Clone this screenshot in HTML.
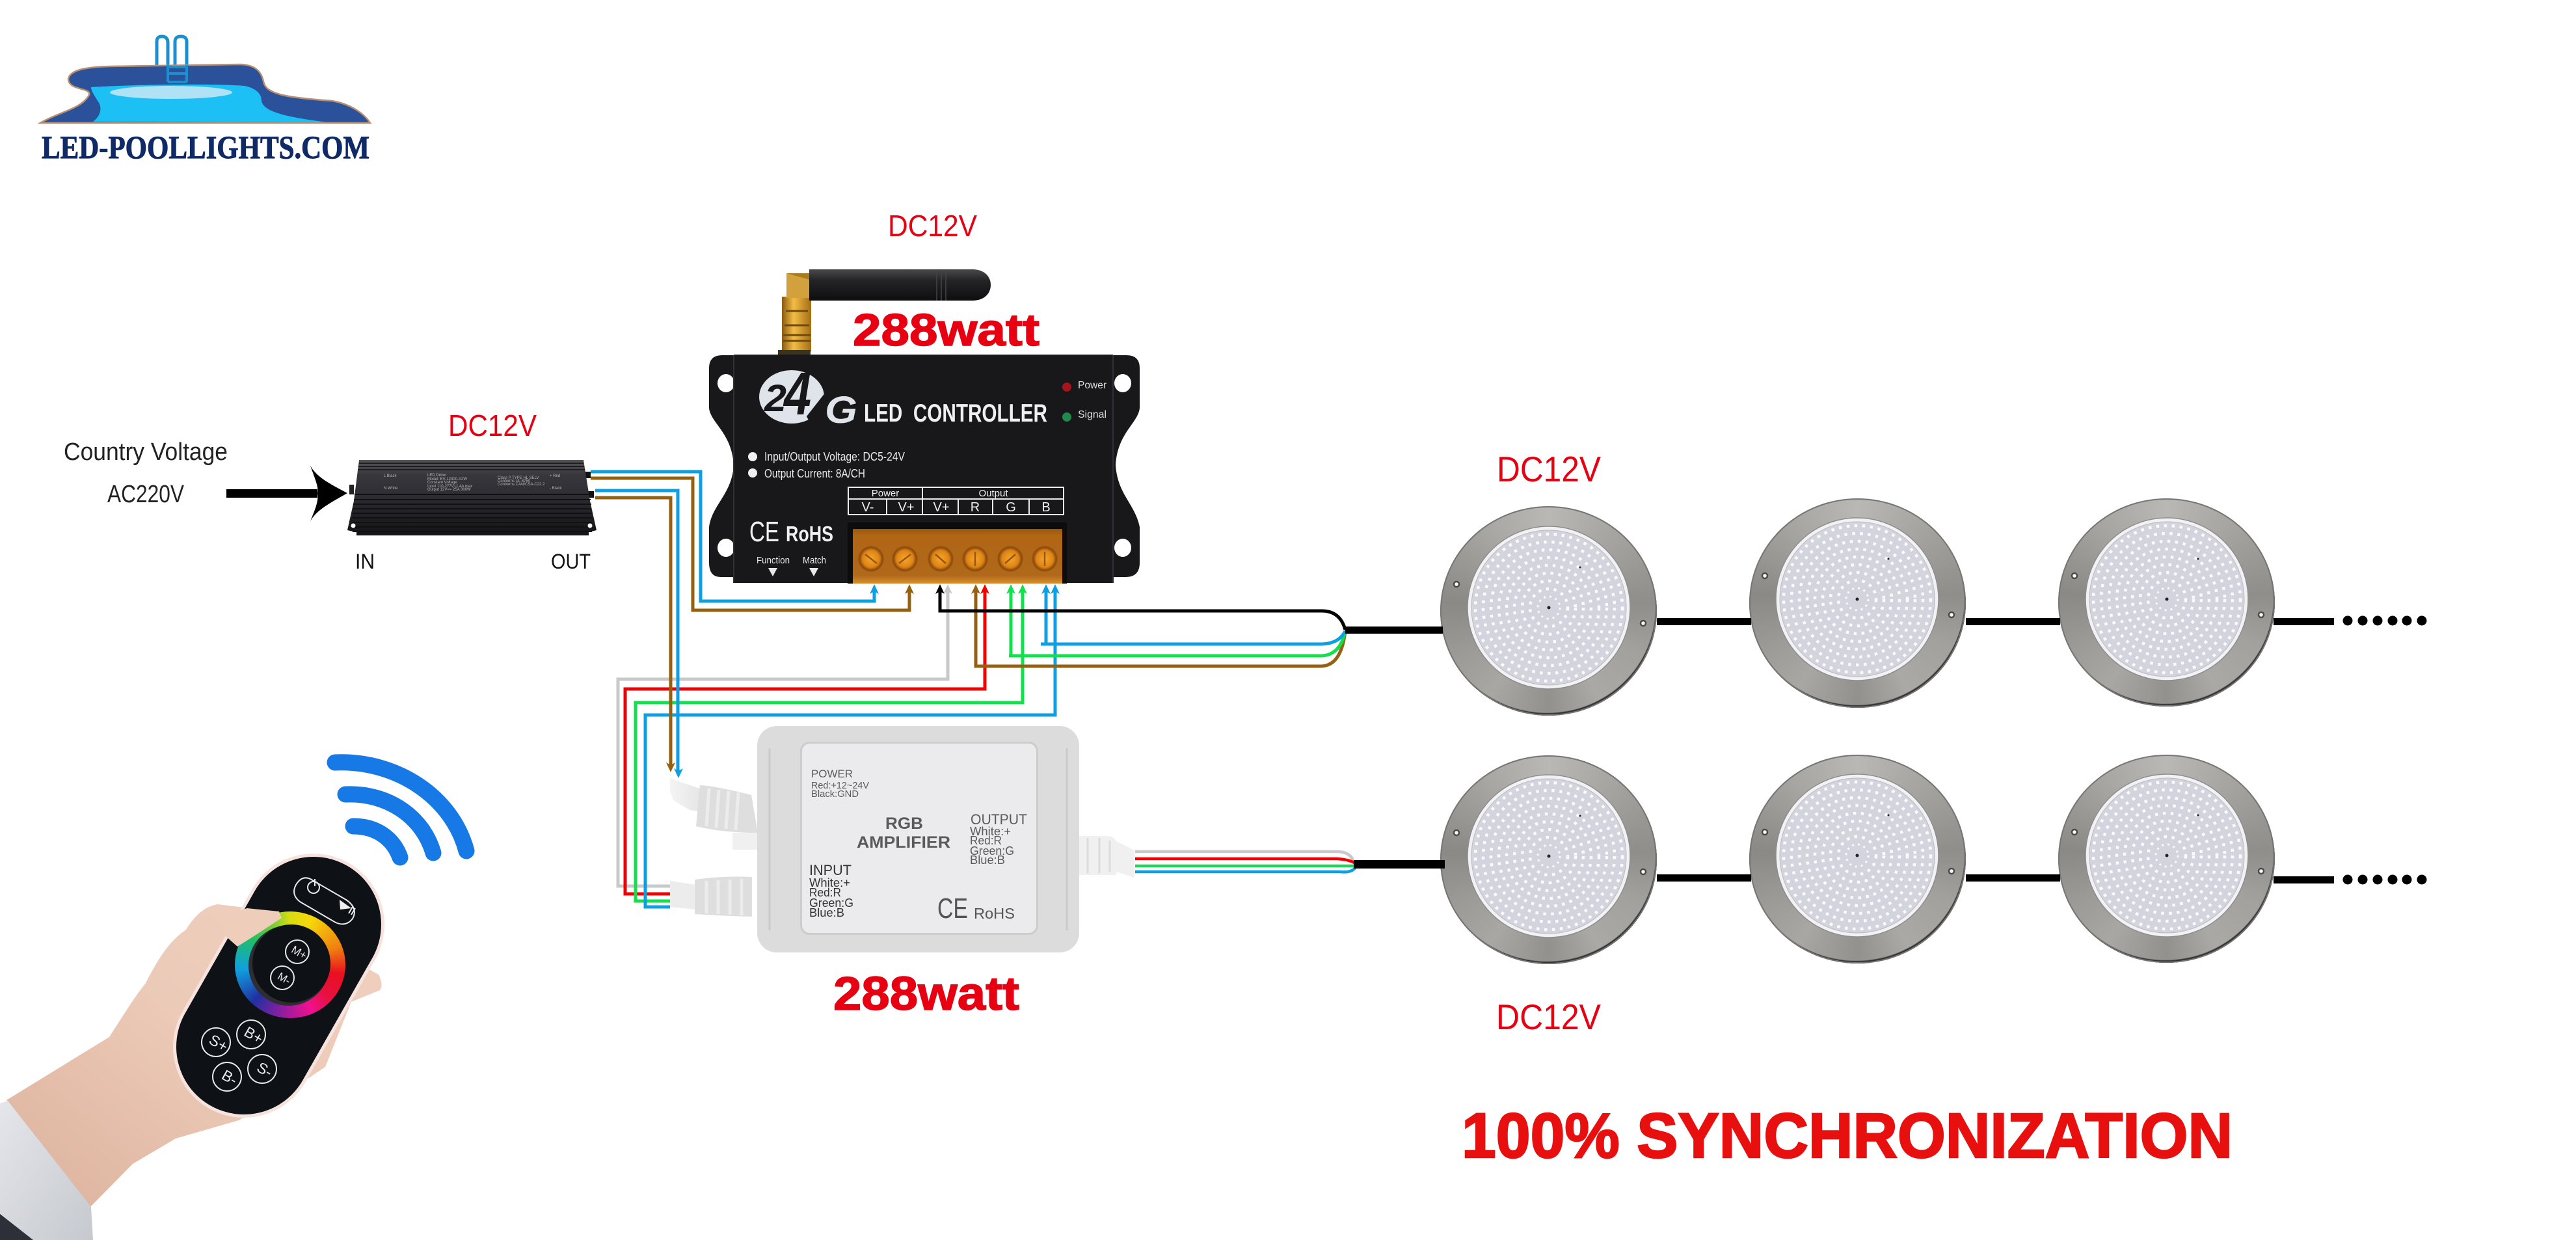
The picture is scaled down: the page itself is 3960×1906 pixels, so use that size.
<!DOCTYPE html>
<html><head><meta charset="utf-8"><style>
html,body{margin:0;padding:0;background:#fff;width:3960px;height:1906px;overflow:hidden}
.m{position:absolute;border-radius:50%;background:conic-gradient(#b9b8b4 0deg,#a3a29e 45deg,#8f8e8a 85deg,#a2a19d 115deg,#aaa9a5 150deg,#92918d 180deg,#a8a7a3 215deg,#9b9a96 245deg,#8a8985 275deg,#a6a5a1 320deg,#b9b8b4 360deg);box-shadow:inset 0 0 0 2px #777674,inset -2px -4px 1px #333}
svg{position:absolute;left:0;top:0}
text{font-family:"Liberation Sans",sans-serif}
</style></head><body>
<div class="m" style="left:2214px;top:778px;width:333px;height:322px"></div>
<div class="m" style="left:2689px;top:766px;width:333px;height:322px"></div>
<div class="m" style="left:3164px;top:766px;width:333px;height:320px"></div>
<div class="m" style="left:2214px;top:1161px;width:333px;height:321px"></div>
<div class="m" style="left:2689px;top:1160px;width:333px;height:321px"></div>
<div class="m" style="left:3164px;top:1160px;width:333px;height:320px"></div>
<svg width="3960" height="1906" viewBox="0 0 3960 1906" xmlns="http://www.w3.org/2000/svg">
<defs>
<linearGradient id="hand" x1="0" y1="1" x2="1" y2="0"><stop offset="0" stop-color="#dcb29c"/><stop offset=".55" stop-color="#eccab8"/><stop offset="1" stop-color="#f0d0bf"/></linearGradient>
<linearGradient id="sleeve" x1="0" y1="0" x2="1" y2="1"><stop offset="0" stop-color="#e4e6ea"/><stop offset="1" stop-color="#c6c9cf"/></linearGradient>
<linearGradient id="ob" x1="0" y1="0" x2="0" y2="1"><stop offset="0" stop-color="#9a560e"/><stop offset=".12" stop-color="#b06614"/><stop offset=".85" stop-color="#b0681a"/><stop offset="1" stop-color="#d9902c"/></linearGradient>
<radialGradient id="sc"><stop offset="0" stop-color="#f6a62a"/><stop offset=".65" stop-color="#dc8416"/><stop offset=".88" stop-color="#8a4a0c"/><stop offset="1" stop-color="#a85e12"/></radialGradient>
<linearGradient id="gold" x1="0" y1="0" x2="1" y2="0"><stop offset="0" stop-color="#8a5a10"/><stop offset=".4" stop-color="#f2bd45"/><stop offset="1" stop-color="#a56d14"/></linearGradient>
<linearGradient id="ant" x1="0" y1="0" x2="0" y2="1"><stop offset="0" stop-color="#4a4a4c"/><stop offset=".35" stop-color="#242426"/><stop offset="1" stop-color="#0e0e10"/></linearGradient>
<linearGradient id="drv" x1="0" y1="0" x2="0" y2="1"><stop offset="0" stop-color="#55555a"/><stop offset=".2" stop-color="#37373c"/><stop offset=".45" stop-color="#2e2e33"/><stop offset="1" stop-color="#141417"/></linearGradient>
<linearGradient id="wc" x1="0" y1="0" x2="1" y2="0"><stop offset="0" stop-color="#f4f4f4"/><stop offset="1" stop-color="#e2e2e2"/></linearGradient>
<g id="plate">
<circle r="125" fill="#f2f2f6" stroke="#8d8d8d" stroke-width="1.5"/>
<circle r="119" fill="#d4d4de" stroke="#bbb" stroke-width="1"/>
<g fill="none" stroke="#fafaff" stroke-width="4.5">
<circle r="113" stroke-dasharray="4.5 7.5"/><circle r="101" stroke-dasharray="4.5 7.5"/><circle r="89" stroke-dasharray="4.5 7.5"/><circle r="77" stroke-dasharray="4.5 7.5"/><circle r="65" stroke-dasharray="4.5 7.5"/><circle r="53" stroke-dasharray="4.5 7.5"/><circle r="41" stroke-dasharray="4.5 7.5"/><circle r="29" stroke-dasharray="4.5 7.5"/><circle r="17" stroke-dasharray="3 6" stroke-width="3"/>
</g>
<circle r="2.5" fill="#222"/><circle cx="48" cy="-62" r="1.5" fill="#222"/>
<circle cx="-142" cy="-36" r="4" fill="#fff" stroke="#4a4a4a" stroke-width="2.5"/>
<circle cx="145" cy="24" r="4" fill="#fff" stroke="#4a4a4a" stroke-width="2.5"/>
</g>
</defs>

<!-- logo -->
<path d="M241,103V64q0,-8 8,-8t9,8V103M269,103V64q0,-8 9,-8t9,8V103" fill="none" stroke="#1b8fd0" stroke-width="5"/>
<path d="M62,189C90,172 125,168 137,146C141,134 105,140 105,121C108,108 130,103 170,102L370,99C395,100 402,112 405,125C408,145 440,150 510,155C540,160 560,175 569,189Z" fill="#2a5199" stroke="#b89070" stroke-width="2.5"/>
<path d="M140,134C200,130 330,128 376,132C395,136 402,145 402,155C405,172 440,180 504,188L143,187C155,178 158,165 150,155C145,146 140,140 140,134Z" fill="#1cc0f5"/>
<ellipse cx="263" cy="142" rx="94" ry="10" fill="#aee2f4"/>
<path d="M258,100V126M287,100V126M258,103H287M258,113H287M258,126H287" fill="none" stroke="#1b8fd0" stroke-width="4"/>
<text x="64" y="243" font-size="50" font-weight="700" style="font-family:'Liberation Serif',serif" fill="#0f2a66" stroke="#0f2a66" stroke-width="1" textLength="504" lengthAdjust="spacingAndGlyphs">LED-POOLLIGHTS.COM</text>

<!-- left labels -->
<text x="98" y="707" font-size="38" fill="#222" textLength="252" lengthAdjust="spacingAndGlyphs">Country Voltage</text>
<text x="165" y="772" font-size="38" fill="#222" textLength="118" lengthAdjust="spacingAndGlyphs">AC220V</text>
<rect x="348" y="752" width="140" height="13" fill="#000"/>
<path d="M534,758C510,745 488,735 477,716C486,740 490,750 488,758C490,768 486,780 477,801C488,782 510,772 534,758Z" fill="#000"/>

<!-- driver -->
<text x="689" y="670" font-size="46" fill="#e60012" textLength="136" lengthAdjust="spacingAndGlyphs">DC12V</text>
<rect x="898" y="725" width="10" height="10" fill="#111"/><rect x="903" y="755" width="10" height="10" fill="#111"/>
<rect x="537" y="745" width="7" height="15" fill="#222"/>
<path d="M552,707H897L907,770L917,815L905,818V823H548V818L534,815L544,770Z" fill="url(#drv)"/>
<g stroke="#101013" stroke-width="1.5">
<path d="M552,712H897M551,717H898M550,722H899"/>
<path d="M545,760H907M544,768H908M543,775H909M543,782H909M542,789H910M542,796H910M542,803H910M542,810H910M542,817H910" stroke-width="2"/>
</g>
<circle cx="543" cy="808" r="3.5" fill="#fff"/><circle cx="907" cy="808" r="3.5" fill="#fff"/>
<g font-size="6" fill="#b6b6b6">
<text x="657" y="732">LED Driver</text><text x="657" y="738">Model: EV-12300-A2W</text><text x="657" y="743">Constant Voltage</text><text x="657" y="749">Input 110-277V~1.4A max</text><text x="657" y="754">Output 12V== 25A 300W</text>
<text x="765" y="736">Class P  TYPE HL  SELV</text><text x="765" y="741">Conforms UL 8750</text><text x="765" y="746">Conforms CAN/CSA-C22.2</text>
<text x="590" y="733">L Black</text><text x="590" y="752">N White</text><text x="845" y="733">+ Red</text><text x="845" y="752">- Black</text>
</g>
<text x="546" y="874" font-size="32" fill="#111" textLength="30" lengthAdjust="spacingAndGlyphs">IN</text>
<text x="847" y="874" font-size="32" fill="#111" textLength="61" lengthAdjust="spacingAndGlyphs">OUT</text>

<!-- antenna -->
<text x="1365" y="363" font-size="46" fill="#e60012" textLength="137" lengthAdjust="spacingAndGlyphs">DC12V</text>
<rect x="1202" y="456" width="45" height="84" fill="url(#gold)"/>
<rect x="1209" y="420" width="36" height="38" fill="#a97a20"/>
<path d="M1209,420L1245,430V458H1209Z" fill="#d2a03c"/>
<rect x="1196" y="538" width="50" height="8" fill="#3a3320"/>
<path d="M1208,478H1242M1206,500H1244M1204,515H1246M1204,524H1246" stroke="#6e4a10" stroke-width="3"/>
<path d="M1244,414H1495C1512,414 1523,424 1523,438C1523,452 1512,462 1495,462H1244Z" fill="url(#ant)"/>
<path d="M1440,414V462M1447,414V462M1454,414V462" stroke="#444" stroke-width="1.5"/>

<text x="1311" y="531" font-size="70" font-weight="700" fill="#e60012" stroke="#e60012" stroke-width="1.5" textLength="287" lengthAdjust="spacingAndGlyphs">288watt</text>

<!-- controller -->
<path fill-rule="evenodd" d="M1128,546H1110Q1090,546 1090,566V627C1092,650 1125,665 1128,715C1125,760 1095,775 1090,810V865Q1090,887 1108,887H1128V896H1711V887H1730Q1752,887 1752,865V810C1745,775 1718,760 1715,715C1718,665 1750,650 1752,627V566Q1752,546 1732,546H1711V545H1128Z M1116,575a13,14 0 1,0 .01,0Z M1116,828a13,14 0 1,0 .01,0Z M1726,575a13,14 0 1,0 .01,0Z M1726,828a13,14 0 1,0 .01,0Z" fill="#18181b"/>
<path d="M1128,546V896M1711,546V896" stroke="#303036" stroke-width="2"/>
<ellipse cx="1217" cy="610" rx="50" ry="41" fill="#dfe3ea"/>
<text x="1175" y="632" font-size="58" font-weight="700" font-style="italic" fill="#18181b" textLength="34" lengthAdjust="spacingAndGlyphs">2</text>
<text x="1205" y="637" font-size="93" font-weight="700" font-style="italic" fill="#18181b" textLength="42" lengthAdjust="spacingAndGlyphs">4</text>
<path d="M1269,603L1240,640L1246,652L1274,612Z" fill="#18181b"/>
<text x="1268" y="650" font-size="58" font-weight="700" font-style="italic" fill="#dfe3ea" textLength="50" lengthAdjust="spacingAndGlyphs">G</text>
<text x="1328" y="648" font-size="39" font-weight="700" fill="#f0f0f0" textLength="282" lengthAdjust="spacingAndGlyphs" xml:space="preserve">LED  CONTROLLER</text>
<circle cx="1640" cy="595" r="7" fill="#a5141c"/><circle cx="1640" cy="641" r="7" fill="#1f8a4c"/>
<text x="1657" y="597" font-size="16" fill="#ddd" textLength="44" lengthAdjust="spacingAndGlyphs">Power</text>
<text x="1657" y="642" font-size="16" fill="#ddd" textLength="44" lengthAdjust="spacingAndGlyphs">Signal</text>
<circle cx="1157" cy="702" r="7" fill="#f0f0f0"/><circle cx="1157" cy="727" r="7" fill="#f0f0f0"/>
<text x="1175" y="708" font-size="18" fill="#e8e8e8" textLength="216" lengthAdjust="spacingAndGlyphs">Input/Output Voltage: DC5-24V</text>
<text x="1175" y="734" font-size="18" fill="#e8e8e8" textLength="155" lengthAdjust="spacingAndGlyphs">Output Current: 8A/CH</text>
<path d="M1304,749H1635V791H1304ZM1304,767H1635M1418,749V791M1363,767V791M1473,767V791M1526,767V791M1582,767V791" fill="none" stroke="#ececec" stroke-width="2"/>
<g fill="#eee" text-anchor="middle">
<text x="1361" y="763" font-size="15">Power</text><text x="1527" y="763" font-size="15">Output</text>
<text x="1334" y="786" font-size="20">V-</text><text x="1393" y="786" font-size="20">V+</text><text x="1447" y="786" font-size="20">V+</text><text x="1499" y="786" font-size="20">R</text><text x="1554" y="786" font-size="20">G</text><text x="1608" y="786" font-size="20">B</text>
</g>
<text x="1152" y="832" font-size="44" fill="#f0f0f0" textLength="46" lengthAdjust="spacingAndGlyphs">CE</text>
<text x="1208" y="832" font-size="33" font-weight="700" fill="#f0f0f0" textLength="73" lengthAdjust="spacingAndGlyphs">RoHS</text>
<text x="1163" y="866" font-size="15" fill="#e8e8e8" textLength="51" lengthAdjust="spacingAndGlyphs">Function</text>
<text x="1234" y="866" font-size="15" fill="#e8e8e8" textLength="36" lengthAdjust="spacingAndGlyphs">Match</text>
<path d="M1181,873H1195L1188,886ZM1244,873H1258L1251,886Z" fill="#e8e8e8"/>
<rect x="1303" y="803" width="337" height="94" fill="#0c0c0d"/>
<rect x="1311" y="813" width="322" height="84" fill="url(#ob)"/>
<g fill="url(#sc)">
<circle cx="1339" cy="859" r="20"/><circle cx="1391" cy="859" r="20"/><circle cx="1446" cy="859" r="20"/><circle cx="1499" cy="859" r="20"/><circle cx="1553" cy="859" r="20"/><circle cx="1606" cy="859" r="20"/>
</g>
<g stroke="#9a560e" stroke-width="2.5"><path d="M1330,852L1348,866M1382,866L1400,852M1438,852L1454,866M1499,848V870M1545,866L1561,852M1606,848V870"/></g>

<!-- wires -->
<g fill="none" stroke-width="5">
<path d="M1457,905V1044H950V1362H1030" stroke="#c9c9c9"/>
<path d="M1514,905V1059H961V1374H1030" stroke="#f00000"/>
<path d="M1572,905V1080H977V1385H1030" stroke="#12e04d"/>
<path d="M1622,905V1099H992V1394H1030" stroke="#0d9fe3"/>
<path d="M915,765H1031V1180" stroke="#95600f"/>
<path d="M915,754H1042V1190" stroke="#0d9fe3"/>
<path d="M908,735H1065V938H1398V905" stroke="#95600f"/>
<path d="M908,725H1077V924H1344V905" stroke="#0d9fe3"/>
<path d="M1500,905V1024H2030Q2062,1024 2068,970" stroke="#95600f"/>
<path d="M1554,905V1008M1551,1008H2030Q2060,1008 2068,970" stroke="#12e04d"/>
<path d="M1608,905V990M1600,990H2030Q2058,990 2068,970" stroke="#0d9fe3"/>
<path d="M1445,905V939H2032Q2060,939 2068,968" stroke="#000"/>
</g>
<path d="M1344,898l-7,15l7,-4l7,4zM1622,898l-7,15l7,-4l7,4zM1608,898l-7,15l7,-4l7,4zM1043,1196l-7,-15l7,4l7,-4z" fill="#0d9fe3"/>
<path d="M1398,898l-7,15l7,-4l7,4zM1500,898l-7,15l7,-4l7,4zM1031,1187l-7,-15l7,4l7,-4z" fill="#95600f"/>
<path d="M1445,898l-7,15l7,-4l7,4z" fill="#000"/>
<path d="M1457,898l-7,15l7,-4l7,4z" fill="#c9c9c9"/>
<path d="M1514,898l-7,15l7,-4l7,4z" fill="#f00000"/>
<path d="M1554,898l-7,15l7,-4l7,4zM1572,898l-7,15l7,-4l7,4z" fill="#12e04d"/>

<!-- amplifier connectors -->
<path d="M1030,1195L1040,1200L1076,1212L1090,1250L1060,1245L1035,1230L1030,1215Z" fill="url(#wc)"/>
<path d="M1076,1207Q1100,1208 1155,1222L1165,1280Q1110,1280 1070,1270Z" fill="#dedede"/>
<path d="M1090,1212L1086,1270M1105,1214L1101,1272M1120,1216L1116,1274M1135,1218L1131,1276" stroke="#ececec" stroke-width="5"/>
<rect x="1126" y="1280" width="38" height="26" fill="#f0f0f0"/>
<path d="M1030,1354L1070,1360V1398L1030,1394Z" fill="#ececec"/>
<path d="M1068,1352Q1110,1346 1156,1348V1409Q1110,1408 1068,1405Z" fill="#dedede"/>
<path d="M1086,1354V1404M1104,1353V1405M1122,1352V1406M1140,1351V1407" stroke="#ececec" stroke-width="5"/>
<rect x="1164" y="1116" width="495" height="348" rx="30" fill="#dcdcdc"/>
<rect x="1230" y="1140" width="366" height="297" rx="14" fill="#cdcdcd"/>
<rect x="1233" y="1143" width="360" height="291" rx="12" fill="#ebebed"/>
<path d="M1183,1150V1430M1640,1150V1430" stroke="#cacaca" stroke-width="3"/>
<g fill="#5a5a5a">
<text x="1247" y="1195" font-size="17" textLength="64" lengthAdjust="spacingAndGlyphs">POWER</text>
<text x="1247" y="1212" font-size="15" textLength="89" lengthAdjust="spacingAndGlyphs">Red:+12~24V</text>
<text x="1247" y="1225" font-size="15" textLength="73" lengthAdjust="spacingAndGlyphs">Black:GND</text>
<text x="1361" y="1274" font-size="25" font-weight="700" textLength="58" lengthAdjust="spacingAndGlyphs">RGB</text>
<text x="1317" y="1303" font-size="25" font-weight="700" textLength="144" lengthAdjust="spacingAndGlyphs">AMPLIFIER</text>
<text x="1492" y="1267" font-size="22" textLength="87" lengthAdjust="spacingAndGlyphs">OUTPUT</text>
<text x="1491" y="1284" font-size="18" textLength="63" lengthAdjust="spacingAndGlyphs">White:+</text>
<text x="1491" y="1298" font-size="18" textLength="49" lengthAdjust="spacingAndGlyphs">Red:R</text>
<text x="1491" y="1314" font-size="18" textLength="68" lengthAdjust="spacingAndGlyphs">Green:G</text>
<text x="1491" y="1328" font-size="18" textLength="54" lengthAdjust="spacingAndGlyphs">Blue:B</text>
</g>
<g fill="#333">
<text x="1244" y="1345" font-size="22" textLength="65" lengthAdjust="spacingAndGlyphs">INPUT</text>
<text x="1244" y="1363" font-size="18" textLength="63" lengthAdjust="spacingAndGlyphs">White:+</text>
<text x="1244" y="1378" font-size="18" textLength="49" lengthAdjust="spacingAndGlyphs">Red:R</text>
<text x="1244" y="1394" font-size="18" textLength="68" lengthAdjust="spacingAndGlyphs">Green:G</text>
<text x="1244" y="1409" font-size="18" textLength="54" lengthAdjust="spacingAndGlyphs">Blue:B</text>
</g>
<g fill="#555">
<text x="1441" y="1411" font-size="44" textLength="47" lengthAdjust="spacingAndGlyphs">CE</text>
<text x="1497" y="1412" font-size="23" textLength="63" lengthAdjust="spacingAndGlyphs">RoHS</text>
</g>
<path d="M1659,1285H1700Q1712,1285 1716,1293L1744,1307V1349L1716,1340V1345H1659Z" fill="#f0f0f0"/>
<path d="M1672,1288V1342M1690,1288V1342M1706,1292V1340" stroke="#dcdcdc" stroke-width="3"/>
<g fill="none" stroke-width="4.5">
<path d="M1745,1309H2055Q2078,1309 2082,1328" stroke="#c9c9c9"/>
<path d="M1745,1320H2055Q2072,1321 2082,1326" stroke="#f00000"/>
<path d="M1745,1331H2082" stroke="#22d35c"/>
<path d="M1745,1340H2060Q2078,1342 2084,1333" stroke="#0d9fe3"/>
</g>
<text x="1281" y="1552" font-size="72" font-weight="700" fill="#e60012" stroke="#e60012" stroke-width="1.5" textLength="286" lengthAdjust="spacingAndGlyphs">288watt</text>

<!-- lamp lines -->
<g fill="#000">
<rect x="2068" y="963" width="150" height="11"/><rect x="2547" y="950" width="145" height="11"/><rect x="3022" y="950" width="145" height="11"/><rect x="3495" y="950" width="93" height="11"/>
<rect x="2081" y="1322" width="140" height="13"/><rect x="2547" y="1344" width="145" height="11"/><rect x="3022" y="1344" width="145" height="11"/><rect x="3495" y="1347" width="93" height="11"/>
<circle cx="3609" cy="954" r="7.5"/><circle cx="3632" cy="954" r="7.5"/><circle cx="3655" cy="954" r="7.5"/><circle cx="3678" cy="954" r="7.5"/><circle cx="3700" cy="954" r="7.5"/><circle cx="3723" cy="954" r="7.5"/>
<circle cx="3609" cy="1352" r="7.5"/><circle cx="3632" cy="1352" r="7.5"/><circle cx="3655" cy="1352" r="7.5"/><circle cx="3678" cy="1352" r="7.5"/><circle cx="3700" cy="1352" r="7.5"/><circle cx="3723" cy="1352" r="7.5"/>
</g>
<use href="#plate" transform="translate(2381,934)"/><use href="#plate" transform="translate(2855,921)"/><use href="#plate" transform="translate(3331,921)"/>
<use href="#plate" transform="translate(2381,1316)"/><use href="#plate" transform="translate(2855,1315)"/><use href="#plate" transform="translate(3331,1315)"/>

<text x="2301" y="740" font-size="55" fill="#e60012" textLength="160" lengthAdjust="spacingAndGlyphs">DC12V</text>
<text x="2300" y="1582" font-size="55" fill="#e60012" textLength="161" lengthAdjust="spacingAndGlyphs">DC12V</text>
<text x="2247" y="1779" font-size="97" font-weight="700" fill="#e8100f" stroke="#e8100f" stroke-width="2.5" textLength="1185" lengthAdjust="spacingAndGlyphs">100% SYNCHRONIZATION</text>

<!-- wifi -->
<g fill="none" stroke="#1679e6" stroke-width="25" stroke-linecap="round">
<path d="M515,1172C610,1168 695,1225 717,1308"/>
<path d="M531,1221C595,1218 650,1255 666,1311"/>
<path d="M543,1270C580,1270 605,1290 615,1318"/>
</g>

<!-- hand + sleeve -->
<path d="M10,1691L168,1594C190,1560 205,1535 224,1511C245,1470 262,1445 286,1429C300,1405 318,1392 335,1390L400,1398L582,1498Q590,1515 584,1522L540,1540L500,1640L440,1680L367,1722L270,1750L204,1789L138,1856Z" fill="url(#hand)"/>
<path d="M0,1696L12,1692L140,1855L143,1906H0Z" fill="url(#sleeve)"/>
<path d="M0,1866L51,1906H0Z" fill="#2d3038"/>

<!-- remote -->
<path d="M482,1421L375,1609" stroke="#f6e3de" stroke-width="218" stroke-linecap="round" fill="none"/>
<path d="M482,1421L375,1609" stroke="#0e1116" stroke-width="208" stroke-linecap="round" fill="none"/>
<foreignObject x="361" y="1401" width="170" height="164"><div xmlns="http://www.w3.org/1999/xhtml" style="width:170px;height:164px;border-radius:50%;background:conic-gradient(#d9dd12 0deg,#f5d80a 25deg,#f08010 70deg,#e81020 100deg,#e81040 130deg,#f01090 155deg,#8020a0 195deg,#2030a0 225deg,#10a0e0 265deg,#20c060 305deg,#80d030 340deg,#d9dd12 360deg)"></div></foreignObject>
<ellipse cx="444" cy="1484" rx="62" ry="62" fill="#2e2e32"/>
<circle cx="448" cy="1481" r="60" fill="#0e1116"/>
<g fill="none" stroke="#e8e8e8" stroke-width="2">
<circle cx="457" cy="1463" r="18"/><circle cx="434" cy="1503" r="18"/>
<circle cx="386" cy="1590" r="22"/><circle cx="332" cy="1602" r="22"/><circle cx="403" cy="1643" r="22"/><circle cx="349" cy="1655" r="22"/>
<path d="M477,1351L532,1383Q551,1396 542,1412Q532,1425 516,1418L461,1386Q447,1375 455,1360Q464,1345 477,1351Z"/>
<circle cx="482" cy="1364" r="9"/><path d="M484,1351V1362"/>
</g>
<path d="M522,1383L540,1396L523,1398Z" fill="#eee"/>
<path d="M542,1394L536,1404M546,1396L540,1406" stroke="#eee" stroke-width="2"/>
<g fill="#e8e8e8" text-anchor="middle">
<text transform="translate(457,1469) rotate(30)" font-size="17">M+</text>
<text transform="translate(434,1509) rotate(30)" font-size="17">M-</text>
<text transform="translate(386,1598) rotate(30)" font-size="23">B+</text>
<text transform="translate(332,1610) rotate(30)" font-size="23">S+</text>
<text transform="translate(403,1651) rotate(30)" font-size="23">S-</text>
<text transform="translate(349,1663) rotate(30)" font-size="23">B-</text>
</g>
<path d="M357,1403L380,1396L429,1401L433,1411L398,1434L365,1455L347,1439Z" fill="#efcdbb"/>
</svg>
</body></html>
